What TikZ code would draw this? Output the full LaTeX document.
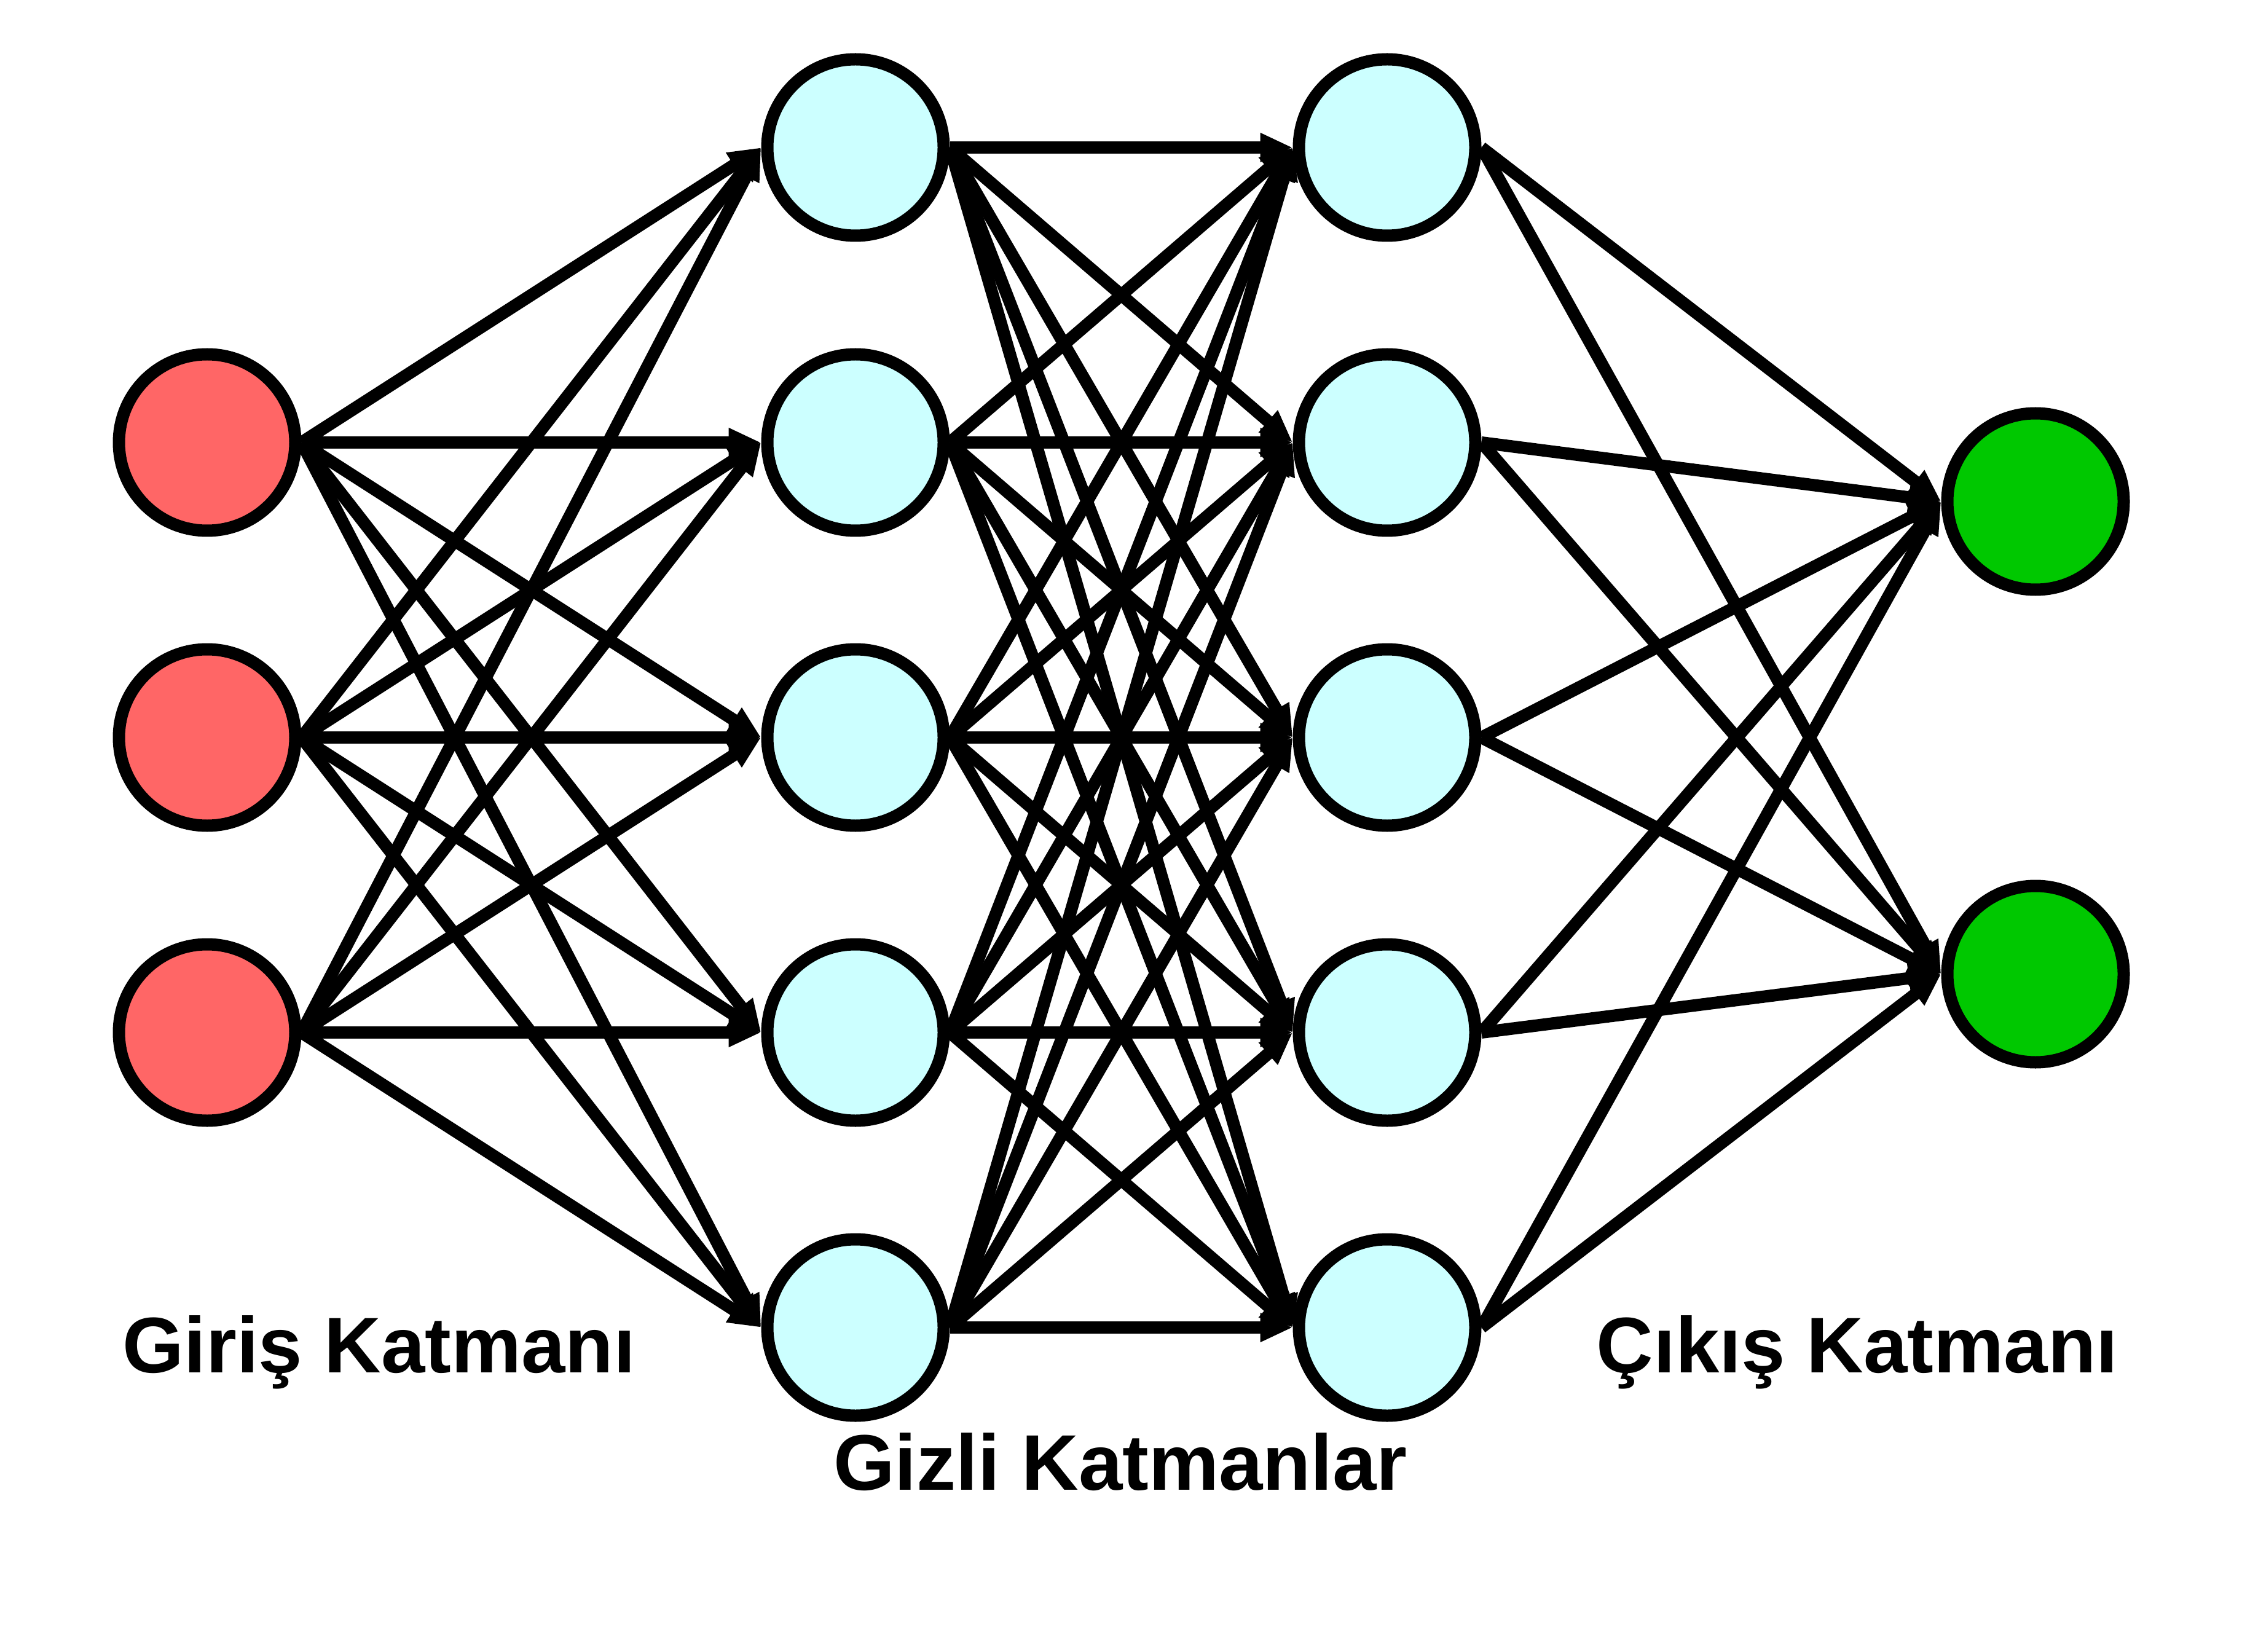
\documentclass[tikz,border=0pt]{standalone}
\usepackage{fontspec}
\setmainfont{Liberation Sans}
\usepackage{tikz}
\usetikzlibrary{arrows.meta, positioning}
\definecolor{inputred}{HTML}{FF6666}
\definecolor{hiddencyan}{HTML}{CCFFFF}
\definecolor{outputgreen}{HTML}{00C800}

\begin{document}
\begin{tikzpicture}[
    neuron/.style={draw, circle, line width=2mm, minimum size=28.7mm, inner sep=0pt},
    arrow/.style={-{Triangle[length=5.3mm, width=4.4mm]}, line width=2mm},
    layerlabel/.style={anchor=base, font=\fontsize{36.5}{44}\selectfont\bfseries}
]
    \useasboundingbox (0,0) rectangle (36.48,-26.88);

    % Input layer
    \foreach \i/\y in {1/-7.2, 2/-12.0, 3/-16.8}
        \node[neuron, fill=inputred] (in\i) at (3.37,\y) {};

    % Hidden layers
    \foreach \i/\y in {1/-2.4, 2/-7.2, 3/-12.0, 4/-16.8, 5/-21.6} {
        \node[neuron, fill=hiddencyan] (ha\i) at (13.92,\y) {};
        \node[neuron, fill=hiddencyan] (hb\i) at (22.57,\y) {};
    }

    % Output layer
    \node[neuron, fill=outputgreen] (out1) at (33.12,-8.16) {};
    \node[neuron, fill=outputgreen] (out2) at (33.12,-15.85) {};

    % Labels
    \node[layerlabel] (inlabel) at (6.17,-22.33) {Giriş Katmanı};
    \node[layerlabel] (hidlabel) at (18.23,-24.24) {Gizli Katmanlar};
    \node[layerlabel] (outlabel) at (30.22,-22.33) {Çıkış Katmanı};

    % Connections
    \foreach \i in {1,...,3}
        \foreach \j in {1,...,5}
            \draw[arrow] (in\i.east) -- (ha\j.west);
    \foreach \i in {1,...,5}
        \foreach \j in {1,...,5}
            \draw[arrow] (ha\i.east) -- (hb\j.west);
    \foreach \i in {1,...,5}
        \foreach \j in {1,2}
            \draw[arrow] (hb\i.east) -- (out\j.west);
\end{tikzpicture}
\end{document}
